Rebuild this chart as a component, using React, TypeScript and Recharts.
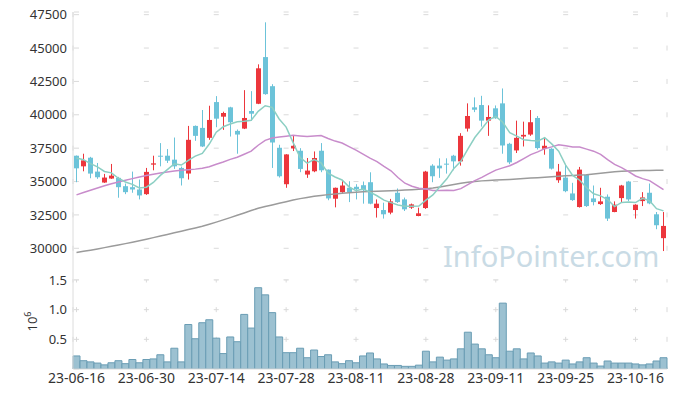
import React from 'react';
import { ComposedChart, Bar, Line, XAxis, YAxis, CartesianGrid, Label } from 'recharts';

const dates = [
  '23-06-16','23-06-19','23-06-20','23-06-21','23-06-22','23-06-23','23-06-26','23-06-27','23-06-28','23-06-29',
  '23-06-30','23-07-03','23-07-04','23-07-05','23-07-06','23-07-07','23-07-10','23-07-11','23-07-12','23-07-13',
  '23-07-14','23-07-17','23-07-18','23-07-19','23-07-20','23-07-21','23-07-24','23-07-25','23-07-26','23-07-27',
  '23-07-28','23-07-31','23-08-01','23-08-02','23-08-03','23-08-04','23-08-07','23-08-08','23-08-09','23-08-10',
  '23-08-11','23-08-14','23-08-16','23-08-17','23-08-18','23-08-21','23-08-22','23-08-23','23-08-24','23-08-25',
  '23-08-28','23-08-29','23-08-30','23-08-31','23-09-01','23-09-04','23-09-05','23-09-06','23-09-07','23-09-08',
  '23-09-11','23-09-12','23-09-13','23-09-14','23-09-15','23-09-18','23-09-19','23-09-20','23-09-21','23-09-22',
  '23-09-25','23-09-26','23-09-27','23-10-04','23-10-05','23-10-06','23-10-10','23-10-11','23-10-12','23-10-13',
  '23-10-16','23-10-17','23-10-18','23-10-19','23-10-20',
];

const openP = [
  36935,36139,36786,35745,34926,35224,35276,34652,34577,34406,
  34056,36266,36935,36935,36638,36020,35600,39167,39018,38274,
  40953,39859,40558,38795,38966,40283,40827,44323,42143,37530,
  34800,37478,37307,35522,35768,37307,35894,33714,34205,34532,
  34607,34726,34949,33015,32866,32672,34160,33662,33044,32419,
  33015,36192,36192,36340,36935,36512,38966,40558,40730,39562,
  40484,40856,37828,37330,38371,38520,39762,37456,37456,35098,
  35298,34108,33089,35498,33736,33312,33863,32717,33760,35001,
  32866,33536,34160,32546,30760,
];
const highP = [
  36950,37084,36850,36392,35574,36318,35350,34852,35745,35150,
  36020,36935,37880,37434,38297,36120,39167,39200,40358,40678,
  41399,40231,40600,38900,41846,41771,43780,46927,42292,37754,
  37050,38423,37500,36764,37255,37880,35900,34550,35023,35023,
  34800,35000,35693,33662,33417,33700,34480,33800,33350,33044,
  35800,36300,36740,36740,37000,38624,40856,41303,41421,40707,
  40700,41972,37900,39562,39487,40358,39911,38252,37500,36318,
  36266,34904,36095,35550,34703,34532,34034,33513,34750,35050,
  33300,34205,34852,32717,32717,
];
const lowP = [
  34949,35767,35246,35202,34900,35200,33788,34056,34160,33662,
  34000,35842,36139,36392,35946,34703,35150,38051,37583,38126,
  39070,38870,38371,37084,38930,39540,40800,41500,36020,35300,
  34532,37285,35700,35276,35700,35700,33600,33067,34150,33460,
  33662,33343,33300,32300,32225,32546,33400,32792,32950,32400,
  32950,34949,35276,35596,35842,36192,38743,40200,39115,38423,
  39700,37084,36300,37136,37627,38423,37400,37010,35900,34904,
  34200,33550,33050,33100,33215,33250,32047,32700,33461,33536,
  32225,33163,33300,31429,29793,
];
const closeP = [
  35990,36586,35596,35321,35298,35447,34577,34205,34406,33959,
  35723,36363,36861,36563,36139,35247,38126,38423,37627,39614,
  39710,40134,39442,38520,39762,40082,43482,41548,37925,35396,
  37032,37679,35946,35820,36764,35842,33736,34532,34703,34205,
  34428,34354,33343,33343,32546,33513,33461,32918,33290,32620,
  35745,35396,35990,36266,36512,38423,39911,40380,39562,39837,
  39740,37701,36437,38274,38498,39443,37508,37679,35968,35745,
  34279,33611,35894,33163,33461,33513,32226,33267,34703,33662,
  33267,33810,33364,31727,31675,
];
const volume = [
  220000,140000,120000,100000,70000,105000,140000,90000,160000,105000,
  160000,170000,240000,120000,350000,120000,750000,510000,780000,830000,
  520000,260000,540000,460000,920000,690000,1370000,1250000,950000,540000,
  275000,275000,350000,190000,320000,210000,240000,120000,90000,140000,
  105000,220000,270000,170000,85000,60000,60000,45000,45000,65000,
  300000,120000,200000,150000,170000,340000,620000,420000,340000,240000,
  190000,1110000,300000,340000,170000,270000,220000,100000,120000,100000,
  150000,85000,120000,190000,100000,50000,135000,100000,100000,100000,
  85000,70000,85000,135000,190000,
];
const ma5 = [
  36760,36640,36340,36100,35758,35650,35248,34970,34787,34519,
  34574,34931,35462,35894,36330,36235,36587,36900,37112,37807,
  38700,39102,39305,39484,39514,39588,40258,40679,40560,39687,
  39077,37916,36796,36375,36648,36410,35622,35339,35115,34604,
  34321,34444,34207,33935,33603,33420,33241,33156,33146,33160,
  33607,33994,34608,35203,35982,36517,37420,38298,38958,39623,
  39886,39444,38655,38398,38130,38071,38032,38280,37819,37269,
  36236,35456,35099,34538,34082,33928,33651,33126,33434,33474,
  33425,33742,33561,32966,32803,
];
const ma20 = [
  34000,34180,34350,34520,34680,34830,34970,35100,35220,35340,
  35450,35550,35640,35720,35790,35840,35880,35930,36000,36104,
  36290,36467,36659,36819,37042,37274,37719,38087,38263,38334,
  38400,38466,38420,38383,38414,38444,38224,38030,37883,37613,
  37349,37060,36755,36496,36135,35807,35306,34874,34643,34504,
  34439,34325,34327,34350,34337,34466,34775,35067,35310,35592,
  35858,36025,36180,36426,36724,37020,37223,37461,37595,37751,
  37677,37588,37583,37428,37276,37030,36646,36290,36047,35739,
  35415,35220,35067,34739,34398,
];
const ma60 = [
  29680,29770,29860,29950,30050,30150,30250,30350,30460,30570,
  30680,30800,30920,31040,31160,31280,31400,31520,31650,31800,
  31960,32130,32300,32470,32650,32830,33000,33130,33250,33370,
  33490,33610,33720,33810,33890,33960,34020,34070,34120,34160,
  34200,34230,34250,34270,34290,34310,34330,34360,34390,34420,
  34460,34520,34600,34690,34780,34870,34950,35010,35050,35080,
  35110,35140,35160,35190,35230,35260,35290,35320,35360,35400,
  35430,35460,35490,35510,35560,35620,35680,35730,35770,35790,
  35810,35820,35830,35840,35845,
];

const tickDates = ['23-06-16','23-06-30','23-07-14','23-07-28','23-08-11','23-08-28','23-09-11','23-09-25','23-10-16'];
const priceTicks = [30000, 32500, 35000, 37500, 40000, 42500, 45000, 47500];
const volTicks = [500000, 1000000, 1500000];

const data = dates.map((d, i) => ({
  date: d,
  open: openP[i],
  high: highP[i],
  low: lowP[i],
  close: closeP[i],
  volume: volume[i],
  ma5: ma5[i],
  ma20: ma20[i],
  ma60: ma60[i],
}));

const UP = '#ec363c';
const DOWN = '#6cc3d9';
const FONT = "'Noto Sans', sans-serif";
const GRID = '#dadada';
const BORDER = '#dcdcdc';

function Candle(props: any) {
  const { x, y, width, height, payload } = props;
  if (x == null || y == null || !payload) return null;
  const top = Math.min(y, y + height);
  const bot = Math.max(y, y + height);
  const { open, close, high, low } = payload;
  const span = high - low || 1;
  const py = (v: number) => top + ((high - v) / span) * (bot - top);
  const wx = Math.floor(x + width / 2) + 0.5;
  const color = close >= open ? UP : DOWN;
  const bTop = py(Math.max(open, close));
  const bBot = py(Math.min(open, close));
  return (
    <g>
      <line x1={wx} x2={wx} y1={top} y2={bot} stroke={color} strokeWidth={1} />
      <rect x={wx - 2.5} y={bTop} width={5} height={Math.max(1, bBot - bTop)} fill={color} />
    </g>
  );
}

function VolLabel(props: any) {
  const vb = props.viewBox || { x: 0, y: 12, width: 73, height: 89 };
  const cx = vb.x + 37;
  const cy = vb.y + vb.height / 2 - 3;
  return (
    <text
      x={cx}
      y={cy}
      transform={`rotate(-90 ${cx} ${cy})`}
      textAnchor="middle"
      fontSize={13}
      fill="#333"
      fontFamily={FONT}
    >
      10<tspan dy={-6} fontSize={9}>6</tspan>
    </text>
  );
}

export default function App() {
  return (
    <div style={{ position: 'absolute', left: 0, top: 0, width: 677, height: 398, background: '#fff', fontFamily: FONT }}>
      <svg width={677} height={398} style={{ position: 'absolute', left: 0, top: 0 }}>
        <text x={443} y={267} fontSize={29} fill="#c9dbe5" fontFamily={FONT}>InfoPointer.com</text>
      </svg>
      <div style={{ position: 'absolute', left: 0, top: 0 }}>
        <ComposedChart
          width={677}
          height={280}
          data={data}
          margin={{ top: 12, right: 10, bottom: 0, left: 0 }}
          barCategoryGap={0}
          barGap={0}
        >
          <CartesianGrid vertical={false} stroke={GRID} strokeDasharray="5 64.88" strokeDashoffset={-1} />
          <CartesianGrid horizontal={false} stroke={GRID} strokeDasharray="5 28.375" strokeDashoffset={-0.17} />
          <XAxis dataKey="date" ticks={tickDates} height={0} tick={false} tickLine={false} axisLine={{ stroke: BORDER }} />
          <XAxis xAxisId="top" orientation="top" dataKey="date" height={0} tick={false} tickLine={false} axisLine={{ stroke: BORDER }} />
          <YAxis
            width={73}
            domain={[27625, 47700]}
            ticks={priceTicks}
            allowDataOverflow
            tickLine={false}
            tickSize={0}
            tickMargin={6}
            axisLine={{ stroke: BORDER }}
            tick={{ fontSize: 13, fill: '#333', fontFamily: FONT }}
          />
          <YAxis yAxisId="r" orientation="right" width={0} tick={false} tickLine={false} axisLine={{ stroke: BORDER }} />
          <Bar dataKey={(d: any) => [d.low, d.high]} shape={Candle} isAnimationActive={false} />
          <Line dataKey="ma60" stroke="#9b9b9b" strokeWidth={1.5} dot={false} isAnimationActive={false} />
          <Line dataKey="ma20" stroke="#c88ccb" strokeWidth={1.5} dot={false} isAnimationActive={false} />
          <Line dataKey="ma5" stroke="#8ccfc3" strokeWidth={1.5} dot={false} isAnimationActive={false} />
        </ComposedChart>
      </div>
      <div style={{ position: 'absolute', left: 0, top: 268 }}>
        <ComposedChart
          width={677}
          height={130}
          data={data}
          margin={{ top: 12, right: 10, bottom: 0, left: 0 }}
          barCategoryGap={0}
          barGap={0}
        >
          <CartesianGrid vertical={false} stroke={GRID} strokeDasharray="5 64.88" strokeDashoffset={-1} />
          <CartesianGrid horizontal={false} stroke={GRID} strokeDasharray="5 24.67" strokeDashoffset={2.5} />
          <XAxis
            dataKey="date"
            ticks={tickDates}
            height={29}
            tickLine={false}
            tickSize={0}
            tickMargin={4}
            interval={0}
            axisLine={{ stroke: BORDER }}
            tick={{ fontSize: 14, fill: '#333', fontFamily: FONT }}
          />
          <YAxis
            width={73}
            domain={[0, 1500000]}
            ticks={volTicks}
            allowDataOverflow
            tickLine={false}
            tickSize={0}
            tickMargin={6}
            axisLine={{ stroke: BORDER }}
            tick={{ fontSize: 13, fill: '#333', fontFamily: FONT }}
            tickFormatter={(v: number) => (v / 1000000).toFixed(1)}
          >
            <Label content={VolLabel} />
          </YAxis>
          <YAxis yAxisId="r" orientation="right" width={0} tick={false} tickLine={false} axisLine={{ stroke: BORDER }} />
          <Bar dataKey="volume" fill="#9cc1d1" stroke="#6a9db4" strokeWidth={1} isAnimationActive={false} />
        </ComposedChart>
      </div>
    </div>
  );
}
